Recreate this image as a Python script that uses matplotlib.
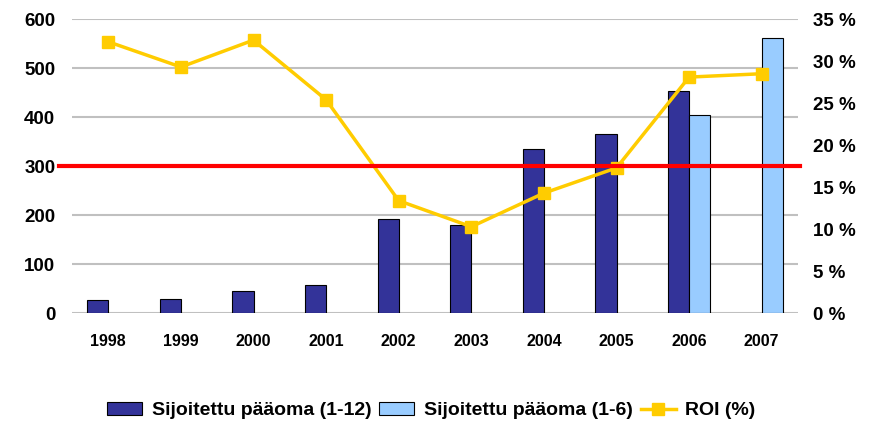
import matplotlib
matplotlib.use("Agg")
import matplotlib.pyplot as plt
import numpy as np
from matplotlib.lines import Line2D
from matplotlib.patches import Patch

years = ["1998", "1999", "2000", "2001", "2002", "2003", "2004", "2005", "2006", "2007"]
capital_12 = [27, 30, 45, 58, 192, 180, 335, 365, 454, np.nan]
capital_6 = [np.nan, np.nan, np.nan, np.nan, np.nan, np.nan, np.nan, np.nan, 405, 562]
roi = [32.3, 29.3, 32.5, 25.4, 13.4, 10.3, 14.3, 17.3, 28.1, 28.5]
threshold = 300
left_ticks = [0, 100, 200, 300, 400, 500, 600]
right_ticks = [0, 5, 10, 15, 20, 25, 30, 35]

plt.rcParams['font.family'] = ['Liberation Sans', 'DejaVu Sans']
plt.rcParams['font.weight'] = 'bold'

fig = plt.figure(figsize=(8.75, 4.24), dpi=100)
ax = fig.add_axes([0.0823, 0.261, 0.8297, 0.694])
x = np.arange(len(years))
w = 0.29

ax.set_xlim(-0.5, len(years) - 0.5)
ax.set_ylim(0, 600)
for v in left_ticks:
    ax.axhline(v, color='#c0c0c0', lw=1.5, zorder=0)

ax.bar(x - w / 2, capital_12, width=w, color='#333399', edgecolor='black', lw=0.8, zorder=2)
ax.bar(x + w / 2, capital_6, width=w, color='#99CCFF', edgecolor='black', lw=0.8, zorder=2)

for s in ax.spines.values():
    s.set_visible(False)
ax.set_yticks(left_ticks)
ax.set_yticklabels([str(v) for v in left_ticks], fontsize=13.5, fontweight='bold')
ax.set_xticks(x)
ax.set_xticklabels(years, fontsize=11.5, fontweight='bold')
ax.tick_params(axis='both', length=0)
ax.tick_params(axis='y', pad=12)
ax.tick_params(axis='x', pad=15)

ax2 = ax.twinx()
ax2.set_ylim(0, 35)
ax2.plot(x, roi, color='#FFCC00', lw=2.5, marker='s', markersize=9, zorder=4)
ax2.plot([-0.68, len(years) - 0.47], [threshold, threshold], color='#FF0000', lw=3,
         zorder=5, clip_on=False, transform=ax.transData)
for s in ax2.spines.values():
    s.set_visible(False)
ax2.set_yticks(right_ticks)
ax2.set_yticklabels([f"{v} %" for v in right_ticks], fontsize=13.5, fontweight='bold')
ax2.tick_params(axis='y', length=0, pad=11)

handles = [Patch(facecolor='#333399', edgecolor='black', lw=0.8),
           Patch(facecolor='#99CCFF', edgecolor='black', lw=0.8),
           Line2D([], [], color='#FFCC00', lw=2.5, marker='s', markersize=9)]
labels = ["Sijoitettu pääoma (1-12)", "Sijoitettu pääoma (1-6)", "ROI (%)"]
fig.legend(handles, labels, loc='center', bbox_to_anchor=(0.493, 0.031), ncol=3, frameon=False,
           prop={'size': 14, 'weight': 'bold'}, handlelength=1.8, handletextpad=0.5, columnspacing=0.4,
           handleheight=0.6, borderpad=0.2)

fig.savefig("out.png", dpi=100)
